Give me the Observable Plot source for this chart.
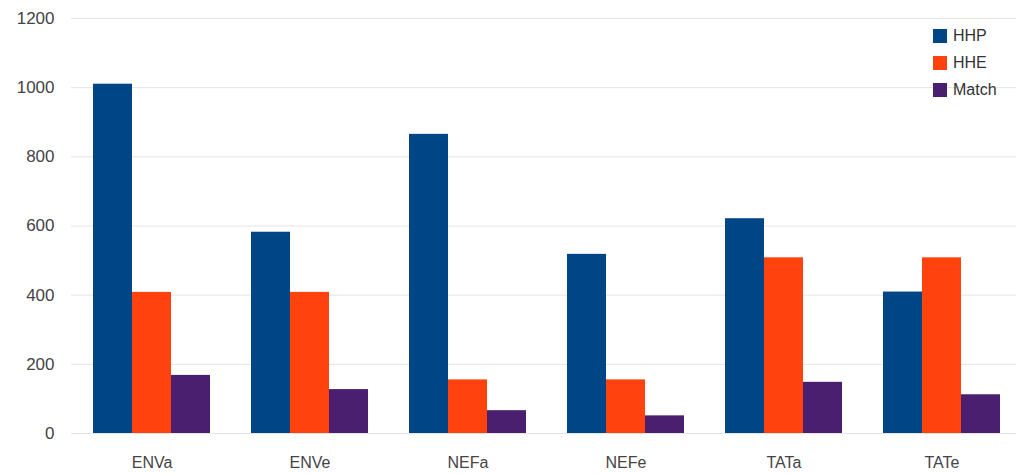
<!DOCTYPE html>
<html>
<head>
<meta charset="utf-8">
<script src="https://cdn.jsdelivr.net/npm/d3@7"></script>
<script src="https://cdn.jsdelivr.net/npm/@observablehq/plot@0.6"></script>
<style>
  html, body { margin: 0; padding: 0; background: #fff; }
  #wrap { position: relative; width: 1016px; height: 474px; font-family: "Liberation Sans", Arial, sans-serif; }
  #wrap svg { position: absolute; left: 0; top: 0; }
  #legend { position: absolute; left: 933px; top: 22px; font-size: 16px; color: #333; }
  .row { display: flex; align-items: center; height: 27px; }
  .sw { width: 14px; height: 14px; margin-right: 6px; }
</style>
</head>
<body>
<div id="wrap"></div>
<script>
const categories = ["ENVa", "ENVe", "NEFa", "NEFe", "TATa", "TATe"];
const series = ["HHP", "HHE", "Match"];
const hhp = [1010, 582, 865, 518, 621, 409];
const hhe = [408, 408, 155, 155, 508, 508];
const match = [168, 127, 66, 51, 148, 112];
const colors = ["#004586", "#ff420e", "#4b1f6f"];
const yTicks = [0, 200, 400, 600, 800, 1000, 1200];

const valuesBySeries = [hhp, hhe, match];
const data = [];
categories.forEach((c, i) => {
  series.forEach((s, j) => data.push({cat: c, series: s, value: valuesBySeries[j][i]}));
});

const common = {
  width: 1016,
  height: 474,
  marginTop: 18,
  marginBottom: 41,
  marginLeft: 71,
  marginRight: -6,
  style: {fontFamily: "Liberation Sans, Arial, sans-serif", fontSize: "16px", color: "#444", background: "transparent", overflow: "visible"}
};

// Background: continuous grid + y axis
const back = Plot.plot({
  ...common,
  y: {domain: [0, 1200], label: null},
  marks: [
    Plot.ruleY(yTicks, {stroke: "#e4e4e4", strokeWidth: 1}),
    Plot.axisY({ticks: yTicks, tickFormat: d3.format("d"), tickSize: 0, tickPadding: 17, label: null, fontSize: 17})
  ]
});

// Foreground: grouped bars
const front = Plot.plot({
  ...common,
  fx: {domain: categories, paddingInner: 0.261, paddingOuter: 0.13, label: null, tickSize: 0, tickPadding: 23, axis: "bottom"},
  x: {domain: series, axis: null, padding: 0},
  y: {domain: [0, 1200], axis: null},
  color: {domain: series, range: colors},
  marks: [
    Plot.barY(data, {fx: "cat", x: "series", y: "value", fill: "series"})
  ]
});

const wrap = document.getElementById("wrap");
wrap.appendChild(back);
wrap.appendChild(front);

const legend = document.createElement("div");
legend.id = "legend";
series.forEach((s, j) => {
  const row = document.createElement("div");
  row.className = "row";
  const sw = document.createElement("div");
  sw.className = "sw";
  sw.style.background = colors[j];
  const t = document.createElement("span");
  t.textContent = s;
  row.appendChild(sw);
  row.appendChild(t);
  legend.appendChild(row);
});
wrap.appendChild(legend);
</script>
</body>
</html>
